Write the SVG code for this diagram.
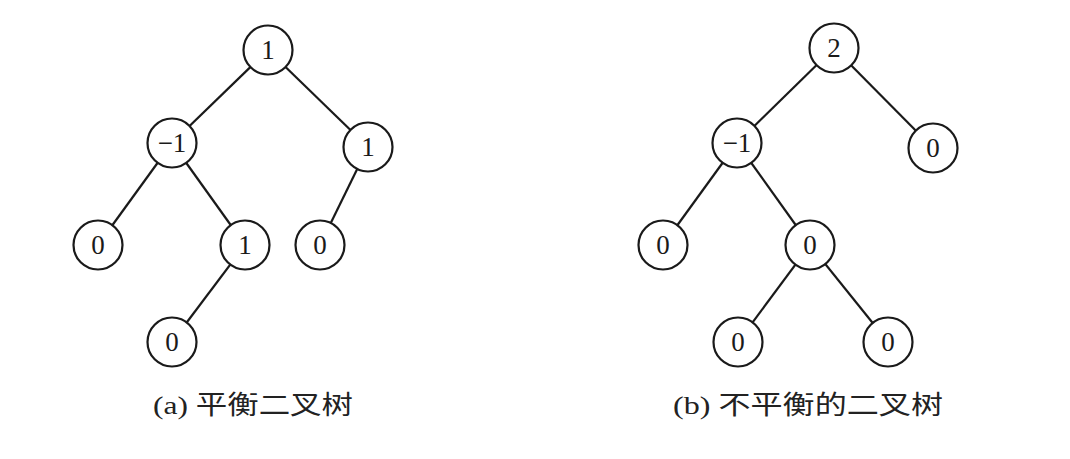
<svg xmlns="http://www.w3.org/2000/svg" width="1070" height="459" viewBox="0 0 1070 459">
<style>
.edge{stroke:#1a1a1a;stroke-width:2.2;fill:none}
.node circle{fill:#fff;stroke:#1a1a1a;stroke-width:2.2}
.node text{font-family:"Liberation Serif","Times New Roman",serif;font-size:27px;fill:#1a1a1a;text-anchor:middle}
.cap{font-family:"Liberation Serif","Noto Sans CJK SC",serif;font-size:26px;fill:#222}
</style>
<rect width="1070" height="459" fill="#fff"/>
<g id="connectors">
<line class="edge" x1="268" y1="50" x2="172" y2="143"/>
<line class="edge" x1="268" y1="50" x2="368" y2="147"/>
<line class="edge" x1="172" y1="143" x2="98" y2="245"/>
<line class="edge" x1="172" y1="143" x2="245" y2="245"/>
<line class="edge" x1="368" y1="147" x2="320" y2="245"/>
<line class="edge" x1="245" y1="245" x2="172" y2="342"/>
<line class="edge" x1="834" y1="48" x2="737" y2="143"/>
<line class="edge" x1="834" y1="48" x2="933" y2="148"/>
<line class="edge" x1="737" y1="143" x2="663" y2="245"/>
<line class="edge" x1="737" y1="143" x2="810" y2="245"/>
<line class="edge" x1="810" y1="245" x2="738" y2="342"/>
<line class="edge" x1="810" y1="245" x2="888" y2="342"/>
</g>
<g id="a_root" class="node"><circle cx="268" cy="50" r="24.5"/><text x="268" y="59">1</text></g>
<g id="a_l" class="node"><circle cx="172" cy="143" r="24.5"/><text x="172" y="152">−1</text></g>
<g id="a_r" class="node"><circle cx="368" cy="147" r="24.5"/><text x="368" y="156">1</text></g>
<g id="a_ll" class="node"><circle cx="98" cy="245" r="24.5"/><text x="98" y="254">0</text></g>
<g id="a_lr" class="node"><circle cx="245" cy="245" r="24.5"/><text x="245" y="254">1</text></g>
<g id="a_rl" class="node"><circle cx="320" cy="245" r="24.5"/><text x="320" y="254">0</text></g>
<g id="a_lrl" class="node"><circle cx="172" cy="342" r="24.5"/><text x="172" y="351">0</text></g>
<g id="b_root" class="node"><circle cx="834" cy="48" r="24.5"/><text x="834" y="57">2</text></g>
<g id="b_l" class="node"><circle cx="737" cy="143" r="24.5"/><text x="737" y="152">−1</text></g>
<g id="b_r" class="node"><circle cx="933" cy="148" r="24.5"/><text x="933" y="157">0</text></g>
<g id="b_ll" class="node"><circle cx="663" cy="245" r="24.5"/><text x="663" y="254">0</text></g>
<g id="b_lr" class="node"><circle cx="810" cy="245" r="24.5"/><text x="810" y="254">0</text></g>
<g id="b_lrl" class="node"><circle cx="738" cy="342" r="24.5"/><text x="738" y="351">0</text></g>
<g id="b_lrr" class="node"><circle cx="888" cy="342" r="24.5"/><text x="888" y="351">0</text></g>
<text class="cap" x="153" y="414" textLength="200" lengthAdjust="spacingAndGlyphs">(a) 平衡二叉树</text>
<text class="cap" x="673" y="414" textLength="270" lengthAdjust="spacingAndGlyphs">(b) 不平衡的二叉树</text>
</svg>
